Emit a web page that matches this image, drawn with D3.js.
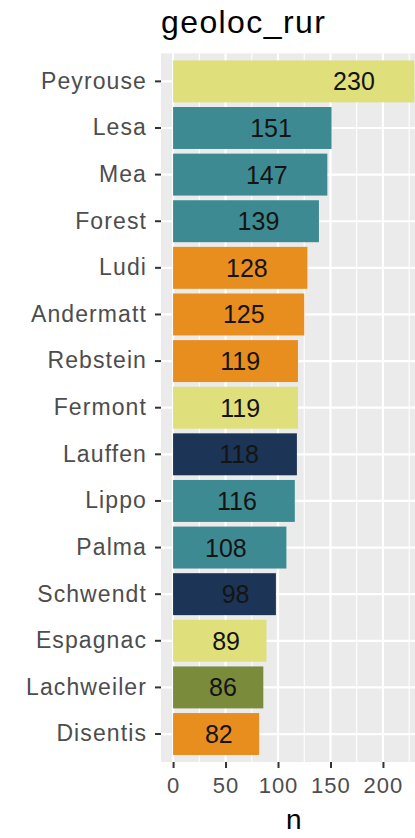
<!DOCTYPE html>
<html><head><meta charset="utf-8">
<script src="https://cdn.jsdelivr.net/npm/d3@7"></script>
<style>html,body{margin:0;padding:0;background:#fff;overflow:hidden}</style>
</head><body>
<script>
const categories = ["Peyrouse","Lesa","Mea","Forest","Ludi","Andermatt","Rebstein","Fermont","Lauffen","Lippo","Palma","Schwendt","Espagnac","Lachweiler","Disentis"];
const values = [230,151,147,139,128,125,119,119,118,116,108,98,89,86,82];
const groups = ["y","t","t","t","o","o","o","y","n","t","t","n","y","g","o"];
const groupKeys = ["y","t","o","n","g"];
const groupColors = ["#dfe07b","#3e8a93","#e88e1f","#1c3455","#7b8b3c"];
const xTicks = [0,50,100,150,200];
const xMinor = [25,75,125,175,225];
const title = "geoloc_rur";
const xTitle = "n";

const W = 415, H = 838;
const panel = {left:161, right:426.5, top:53.4, bottom:762};
const svg = d3.select("body").append("svg").attr("width",W).attr("height",H)
  .style("font-family","'Liberation Sans',Arial,sans-serif");

const x = d3.scaleLinear().domain([-11.5,241.5]).range([panel.left,panel.right]);
const y = d3.scaleBand().domain(categories).range([panel.top,panel.bottom]).paddingInner(0.1).paddingOuter(0.15);
const color = d3.scaleOrdinal().domain(groupKeys).range(groupColors);

svg.append("rect").attr("x",panel.left).attr("y",panel.top)
  .attr("width",panel.right-panel.left).attr("height",panel.bottom-panel.top).attr("fill","#ebebeb");

const g = svg.append("g");
g.selectAll("line.minor").data(xMinor).join("line")
  .attr("x1",d=>x(d)).attr("x2",d=>x(d)).attr("y1",panel.top).attr("y2",panel.bottom)
  .attr("stroke","#fff").attr("stroke-width",1.1);
g.selectAll("line.majx").data(xTicks).join("line")
  .attr("x1",d=>x(d)).attr("x2",d=>x(d)).attr("y1",panel.top).attr("y2",panel.bottom)
  .attr("stroke","#fff").attr("stroke-width",2.2);
g.selectAll("line.majy").data(categories).join("line")
  .attr("x1",panel.left).attr("x2",panel.right)
  .attr("y1",d=>y(d)+y.bandwidth()/2).attr("y2",d=>y(d)+y.bandwidth()/2)
  .attr("stroke","#fff").attr("stroke-width",2.2);

const data = categories.map((c,i)=>({c, v:values[i], g:groups[i]}));
svg.selectAll("rect.bar").data(data).join("rect").attr("class","bar")
  .attr("x",x(0)).attr("y",d=>y(d.c)).attr("width",d=>x(d.v)-x(0)).attr("height",y.bandwidth())
  .attr("fill",d=>color(d.g));

const labels = svg.selectAll("text.lab").data(data).join("text").attr("class","lab")
  .attr("y",d=>y(d.c)+y.bandwidth()/2).attr("dy","0.36em")
  .attr("text-anchor","end").attr("font-size",25).attr("fill","#141414")
  .text(d=>d.v);
labels.each(function(d){
  const w = this.getComputedTextLength();
  d3.select(this).attr("x", x(d.v) - 0.95*w);
});

// y axis
const yAxis = svg.append("g").attr("transform",`translate(${panel.left},0)`)
  .call(d3.axisLeft(y).tickSize(6).tickPadding(8));
yAxis.select(".domain").remove();
yAxis.selectAll(".tick line").attr("stroke","#333").attr("stroke-width",2);
yAxis.selectAll(".tick text").attr("font-size",23).attr("fill","#4d4d4d")
  .attr("letter-spacing","1.1px").style("font-family","'Liberation Sans',Arial,sans-serif");

// x axis
const xAxis = svg.append("g").attr("transform",`translate(0,${panel.bottom})`)
  .call(d3.axisBottom(x).tickValues(xTicks).tickSize(6).tickPadding(9));
xAxis.select(".domain").remove();
xAxis.selectAll(".tick line").attr("stroke","#333").attr("stroke-width",2);
xAxis.selectAll(".tick text").attr("font-size",22).attr("fill","#4d4d4d")
  .attr("letter-spacing","1px").style("font-family","'Liberation Sans',Arial,sans-serif");

svg.append("text").attr("x",(panel.left+panel.right)/2).attr("y",829)
  .attr("text-anchor","middle").attr("font-size",28).attr("fill","#000").text(xTitle);

svg.append("text").attr("x",panel.left).attr("y",33)
  .attr("font-size",32).attr("letter-spacing","1.4px").attr("fill","#000").text(title);
</script>
</body></html>
